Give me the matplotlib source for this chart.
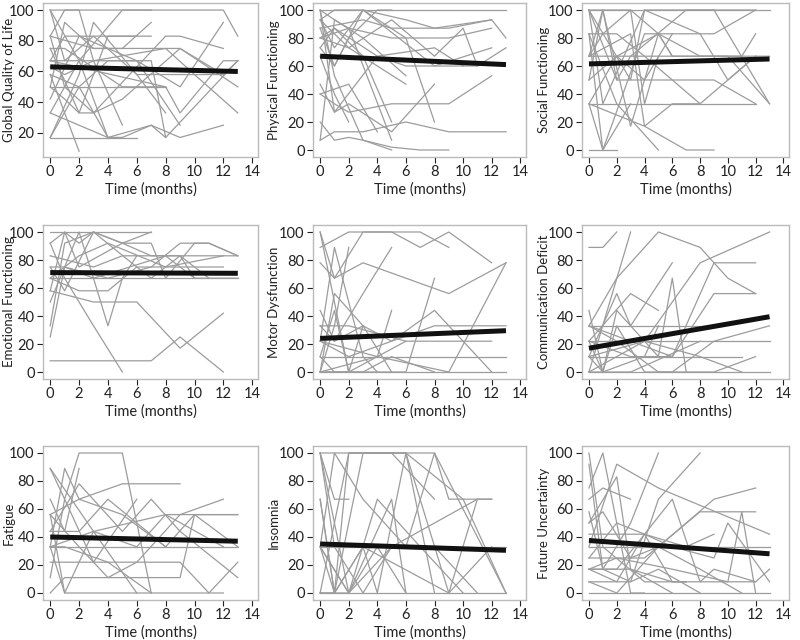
import matplotlib
matplotlib.use("Agg")
import matplotlib.pyplot as plt

plt.rcParams['font.family'] = ['Lato', 'DejaVu Sans']

# y-axis labels of the 9 panels
titles = ['Global Quality of Life', 'Physical Functioning', 'Social Functioning',
          'Emotional Functioning', 'Motor Dysfunction', 'Communication Deficit',
          'Fatigue', 'Insomnia', 'Future Uncertainty']

# mean trend line (value at month 0, value at month 13)
trend_start = [63, 67, 61.5, 71, 24, 17, 40, 35, 37.5]
trend_end = [60, 61, 65, 70.5, 29.5, 39.5, 37, 30.5, 28]

# individual patient trajectories: (month, score)
gql_lines = [
    [(0, 100), (2, 67), (5, 100), (7, 100)],
    [(0, 83), (1, 100), (2, 100), (3, 67), (5, 25)],
    [(0, 67), (1, 83), (4, 83), (7, 83)],
    [(0, 50), (1, 92), (3, 75), (8, 75), (9, 75), (12, 58)],
    [(0, 17), (6, 17)],
    [(0, 33), (4, 17), (5, 17), (7, 25), (8, 17)],
    [(0, 58), (2, 8)],
    [(0, 33), (2, 67), (4, 17), (5, 17)],
    [(0, 75), (2, 33), (4, 83), (6, 83)],
    [(0, 67), (8, 50), (9, 33), (12, 67), (13, 67)],
    [(0, 50), (1, 42), (2, 33), (3, 33), (8, 83), (9, 83), (12, 75)],
    [(0, 42), (2, 83), (6, 67), (9, 50), (12, 92)],
    [(0, 17), (2, 58), (3, 92), (6, 58), (8, 33)],
    [(0, 63), (1, 58), (3, 67), (8, 75), (10, 58), (13, 33)],
    [(0, 83), (3, 75), (5, 75), (7, 92)],
    [(0, 75), (1, 75), (5, 50), (8, 50)],
    [(0, 58), (2, 50), (4, 67), (7, 67), (8, 17), (13, 67)],
    [(0, 67), (1, 67), (6, 67), (9, 25)],
    [(0, 100), (1, 67), (3, 83), (6, 58), (8, 58), (12, 58), (13, 67)],
    [(0, 50), (1, 50), (4, 50), (8, 50)],
    [(0, 83), (1, 50), (3, 33), (5, 42), (9, 75), (13, 50)],
    [(0, 100), (1, 100), (12, 100), (13, 83)],
    [(0, 17), (2, 50), (4, 17), (7, 25), (9, 17), (12, 25)],
]
pf_lines = [
    [(0, 100), (7, 100), (13, 100)],
    [(0, 93), (1, 100), (3, 100), (6, 93), (8, 87), (12, 93)],
    [(0, 87), (3, 93), (5, 87), (9, 87), (12, 93), (13, 80)],
    [(0, 80), (2, 87), (5, 80), (9, 80), (12, 87)],
    [(0, 73), (1, 60), (2, 80), (4, 100), (5, 100)],
    [(0, 100), (1, 93), (3, 80), (6, 53)],
    [(0, 93), (2, 73), (4, 60), (6, 47)],
    [(0, 87), (1, 60), (3, 100), (6, 80), (8, 20)],
    [(0, 73), (1, 87), (3, 67), (5, 20)],
    [(0, 47), (1, 27), (2, 33), (5, 13), (8, 47)],
    [(0, 40), (2, 47), (4, 13)],
    [(0, 40), (1, 33), (2, 27), (5, 33), (9, 33), (12, 53)],
    [(0, 7), (1, 13), (3, 13), (6, 20), (9, 13), (13, 13)],
    [(0, 20), (1, 7), (2, 9), (3, 7), (5, 2), (7, 0), (9, 0)],
    [(0, 7), (1, 93), (2, 87), (5, 7)],
    [(0, 100), (1, 27), (4, 67), (6, 60), (8, 60), (11, 60), (13, 73)],
    [(0, 80), (2, 73), (5, 93), (8, 67), (10, 87), (11, 60)],
    [(0, 93), (1, 73), (3, 100), (8, 60), (12, 73)],
    [(0, 100), (1, 53), (3, 7), (5, 0)],
    [(0, 67), (1, 40), (2, 20)],
    [(0, 80), (1, 87), (4, 67), (8, 73), (10, 60)],
]
sf_lines = [
    [(0, 100), (9, 100), (13, 100)],
    [(0, 100), (1, 33), (4, 100), (8, 83), (9, 83), (12, 100)],
    [(0, 83), (2, 83), (4, 67), (8, 33)],
    [(0, 67), (5, 67), (8, 67), (11, 67), (12, 83)],
    [(0, 33), (1, 33), (3, 33), (12, 33)],
    [(0, 0), (2, 0)],
    [(0, 33), (1, 0), (3, 33)],
    [(0, 50), (1, 100), (3, 17), (5, 83), (6, 67)],
    [(0, 83), (1, 0), (4, 83), (6, 83)],
    [(0, 100), (2, 50), (9, 50), (12, 33)],
    [(0, 67), (3, 83), (4, 17), (6, 33), (8, 33), (12, 67)],
    [(0, 33), (2, 67), (4, 50), (6, 83), (8, 83), (10, 50), (12, 67)],
    [(0, 100), (3, 50), (4, 100), (8, 100), (9, 100), (13, 33)],
    [(0, 83), (2, 33), (5, 0)],
    [(0, 33), (4, 17), (7, 0), (9, 0)],
    [(0, 67), (1, 100), (2, 50), (3, 67), (7, 100), (12, 100)],
    [(0, 50), (2, 67), (5, 83), (6, 67), (9, 67), (11, 67), (13, 67)],
    [(0, 100), (3, 100), (5, 83), (8, 67), (10, 67), (13, 33)],
    [(0, 67), (1, 83), (3, 100), (4, 33), (5, 67)],
]
ef_lines = [
    [(0, 100), (7, 100)],
    [(0, 92), (1, 100), (2, 92), (3, 100), (5, 92), (7, 83), (9, 83), (10, 67)],
    [(0, 83), (3, 75), (5, 83), (8, 83), (13, 83)],
    [(0, 75), (1, 75), (4, 67), (7, 75), (9, 92), (11, 92), (13, 83)],
    [(0, 67), (2, 58), (4, 58), (6, 75), (12, 75)],
    [(0, 92), (1, 67), (3, 33), (5, 0)],
    [(0, 58), (3, 50), (6, 50), (9, 17), (12, 42)],
    [(0, 8), (7, 8), (9, 25), (12, 0)],
    [(0, 25), (1, 75), (3, 67), (4, 33), (5, 67), (6, 83)],
    [(0, 33), (1, 92), (3, 100), (5, 92), (7, 92), (8, 67), (10, 92), (11, 92), (13, 83)],
    [(0, 50), (2, 100), (3, 67), (8, 83), (10, 67), (13, 67)],
    [(0, 75), (1, 58), (3, 100), (6, 75), (7, 67), (9, 83), (11, 67)],
    [(0, 67), (2, 83), (4, 92), (8, 75), (12, 83)],
    [(0, 58), (1, 100), (2, 75), (5, 92), (7, 100)],
    [(0, 67), (3, 67), (8, 67), (13, 67)],
]
md_lines = [
    [(0, 89), (2, 100), (5, 100), (7, 89), (9, 100), (12, 78)],
    [(0, 100), (1, 67), (3, 100), (7, 100), (9, 89)],
    [(0, 78), (1, 67), (3, 78), (9, 56), (13, 78)],
    [(0, 100), (2, 0)],
    [(0, 22), (1, 89), (3, 11), (4, 0)],
    [(0, 44), (1, 22), (3, 56), (5, 89)],
    [(0, 33), (2, 33), (6, 22), (12, 22)],
    [(0, 22), (2, 11), (5, 22), (8, 44), (12, 0)],
    [(0, 0), (1, 56), (3, 33), (5, 0)],
    [(0, 11), (1, 44), (2, 0), (6, 22)],
    [(0, 0), (2, 0), (3, 33)],
    [(0, 0), (4, 11), (5, 44)],
    [(0, 0), (13, 0)],
    [(0, 11), (1, 0), (6, 0), (8, 67)],
    [(0, 11), (2, 11), (9, 11), (13, 11)],
    [(0, 22), (4, 11), (9, 0), (13, 78)],
    [(0, 33), (1, 22), (3, 33), (5, 22), (8, 33), (13, 33)],
    [(0, 0), (3, 0), (5, 11), (8, 0)],
    [(0, 0), (1, 33), (2, 89)],
]
cd_lines = [
    [(0, 89), (1, 89), (2, 100)],
    [(0, 0), (3, 100)],
    [(0, 33), (2, 67), (5, 100), (8, 89), (9, 78), (10, 67), (12, 56)],
    [(0, 22), (3, 56), (5, 44)],
    [(0, 11), (2, 56), (3, 33), (6, 78)],
    [(0, 44), (1, 0), (2, 44), (5, 11), (6, 67), (7, 0)],
    [(0, 33), (4, 33), (8, 33), (9, 33)],
    [(0, 22), (13, 22)],
    [(0, 0), (13, 0)],
    [(0, 11), (2, 11), (11, 11)],
    [(0, 0), (4, 22), (8, 78), (13, 100)],
    [(0, 33), (3, 22), (6, 11), (9, 56), (12, 56)],
    [(0, 22), (1, 0), (2, 33), (4, 0), (6, 0), (9, 22), (13, 33)],
    [(0, 11), (1, 0), (4, 11), (5, 33)],
    [(0, 0), (3, 0), (8, 22)],
    [(0, 22), (3, 11), (6, 11), (9, 78), (12, 78)],
    [(0, 33), (2, 22), (5, 0), (9, 0), (12, 11)],
    [(0, 11), (4, 22), (8, 11), (11, 0)],
]
fa_lines = [
    [(0, 89), (1, 67), (2, 100), (5, 100), (7, 0)],
    [(0, 33), (1, 89), (2, 67), (5, 56), (8, 33)],
    [(0, 67), (1, 44), (2, 89)],
    [(0, 56), (2, 67), (5, 78), (7, 78), (9, 78)],
    [(0, 33), (13, 33)],
    [(0, 22), (4, 22), (9, 22), (11, 0), (13, 22)],
    [(0, 0), (1, 11), (6, 11), (9, 11), (10, 56), (13, 56)],
    [(0, 33), (1, 0), (12, 0)],
    [(0, 56), (1, 0), (3, 44), (6, 0)],
    [(0, 11), (1, 67), (3, 22), (6, 67)],
    [(0, 44), (2, 78), (5, 44), (7, 67), (9, 44), (13, 11)],
    [(0, 33), (3, 44), (8, 56), (12, 33)],
    [(0, 56), (2, 33), (4, 11), (6, 22), (9, 56), (12, 67)],
    [(0, 33), (1, 33), (4, 22), (7, 0)],
    [(0, 44), (2, 44), (4, 67), (8, 33), (10, 56), (13, 33)],
    [(0, 89), (3, 44), (6, 33), (8, 56), (13, 56)],
]
in_lines = [
    [(0, 100), (8, 100), (13, 0)],
    [(0, 100), (1, 67), (2, 67)],
    [(0, 67), (1, 0), (2, 100), (5, 100), (8, 67)],
    [(0, 33), (1, 100), (3, 67), (6, 33), (8, 100), (9, 67), (12, 67)],
    [(0, 0), (1, 0), (3, 100), (6, 100), (9, 0), (12, 33)],
    [(0, 100), (2, 0), (4, 67), (7, 33), (10, 0)],
    [(0, 0), (13, 0)],
    [(0, 33), (2, 0), (5, 67), (6, 0)],
    [(0, 67), (1, 0), (3, 33), (4, 0), (6, 100), (8, 0)],
    [(0, 33), (13, 33)],
    [(0, 0), (2, 100), (6, 100), (10, 67), (13, 0)],
    [(0, 100), (1, 33), (3, 0), (5, 33), (11, 67), (12, 67)],
    [(0, 33), (1, 0), (3, 33), (9, 0), (11, 67)],
    [(0, 0), (2, 0), (4, 33), (6, 0)],
    [(0, 33), (2, 0), (5, 33), (8, 33), (11, 0)],
]
fu_lines = [
    [(0, 33), (2, 92), (5, 75), (13, 42)],
    [(0, 92), (1, 17), (3, 50), (5, 100)],
    [(0, 75), (1, 100), (3, 0), (4, 0)],
    [(0, 67), (1, 75), (3, 67)],
    [(0, 58), (1, 17), (3, 8), (5, 67), (8, 100)],
    [(0, 50), (2, 83), (3, 17), (6, 0)],
    [(0, 0), (13, 0)],
    [(0, 33), (13, 33)],
    [(0, 17), (2, 8), (4, 42), (6, 67), (8, 8), (9, 17), (12, 8)],
    [(0, 25), (2, 50), (4, 42), (7, 33), (9, 42)],
    [(0, 42), (2, 42), (4, 42), (6, 33), (9, 25), (10, 50), (13, 8)],
    [(0, 8), (2, 0), (5, 33), (9, 67), (12, 75)],
    [(0, 17), (3, 17), (6, 8), (10, 8), (12, 8), (13, 17)],
    [(0, 25), (1, 25), (4, 25), (8, 58), (12, 58)],
    [(0, 17), (2, 25), (6, 17), (10, 8), (11, 58), (12, 0)],
    [(0, 8), (3, 8), (5, 17), (8, 0)],
    [(0, 100), (1, 33), (4, 8), (7, 8)],
    [(0, 50), (1, 58), (3, 25), (5, 33), (8, 17), (11, 0)],
    [(0, 17), (2, 17), (4, 42), (6, 8), (7, 8)],
]

all_lines = [gql_lines, pf_lines, sf_lines, ef_lines, md_lines,
             cd_lines, fa_lines, in_lines, fu_lines]

fig = plt.figure(figsize=(8, 6.4), dpi=100)

col_left = [43, 313, 582]
col_width = [215, 213, 207]
row_top = [3, 225, 446]
height = 154
# right edge of the rotated y label, px left of the axes
label_off = [28, 33, 32]

for k in range(9):
    r, c = divmod(k, 3)
    rect = [col_left[c] / 800, 1 - (row_top[r] + height) / 640,
            col_width[c] / 800, height / 640]
    ax = fig.add_axes(rect)
    for traj in all_lines[k]:
        xs = [p[0] for p in traj]
        ys = [p[1] for p in traj]
        ax.plot(xs, ys, color='#9c9c9c', lw=0.9)
    ax.plot([0, 13], [trend_start[k], trend_end[k]], color='#111111', lw=3.6,
            solid_capstyle='butt')
    ax.set_xlim(-0.5, 14.4)
    if k == 0:
        ax.set_ylim(4.3, 104.6)
        ax.set_yticks([20, 40, 60, 80, 100])
    else:
        ax.set_ylim(-5, 105)
        ax.set_yticks([0, 20, 40, 60, 80, 100])
    ax.set_xticks(range(0, 15, 2))
    ax.set_xlabel('Time (months)', fontsize=10.5, color='#222222', labelpad=2)
    ax.set_ylabel(titles[k], fontsize=9.5, color='#222222')
    ax.yaxis.set_label_coords(-label_off[c] / col_width[c], 0.5)
    ax.tick_params(labelsize=10.5, colors='#222222', length=4, width=0.8,
                   pad=2)
    for s in ax.spines.values():
        s.set_color('#bbbbbb')
        s.set_linewidth(1)

fig.savefig('out.png', dpi=100)
